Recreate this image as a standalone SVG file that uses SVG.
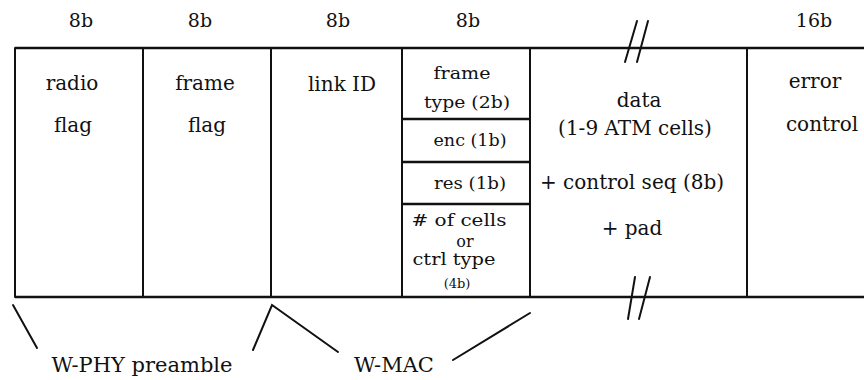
<svg xmlns="http://www.w3.org/2000/svg" width="864" height="380" viewBox="0 0 864 380">
<style>
text{font-family:"DejaVu Serif","Liberation Serif",serif;fill:#111;text-anchor:middle}
.b{font-size:19px}
.m{font-size:20px}
.s{font-size:16px}
.t{font-size:13px}
.ln{stroke:#111;stroke-width:2;fill:none;stroke-linecap:round}
.thk{stroke:#111;stroke-width:2.5;fill:none}
</style>
<rect width="864" height="380" fill="#fff"/>
<g id="bits">
<text class="b" x="81" y="27">8b</text>
<text class="b" x="200" y="27">8b</text>
<text class="b" x="338" y="27">8b</text>
<text class="b" x="468" y="27">8b</text>
<text class="b" x="814" y="27">16b</text>
</g>
<g id="frame-outline">
<line class="thk" x1="15" y1="48" x2="864" y2="48"/>
<line class="thk" x1="15" y1="297" x2="864" y2="297"/>
<line class="ln" x1="15" y1="48" x2="15" y2="297"/>
</g>
<g id="radio-flag">
<text class="m" x="72" y="90">radio</text>
<text class="m" x="73" y="132">flag</text>
</g>
<g id="frame-flag">
<line class="ln" x1="143" y1="48" x2="143" y2="297"/>
<text class="m" x="205" y="90">frame</text>
<text class="m" x="207" y="132">flag</text>
</g>
<g id="link-id">
<line class="ln" x1="271" y1="48" x2="271" y2="297"/>
<text class="m" x="342" y="91">link ID</text>
</g>
<g id="control-fields">
<line class="ln" x1="402" y1="48" x2="402" y2="297"/>
<line class="thk" x1="402" y1="119" x2="530" y2="119"/>
<line class="thk" x1="402" y1="162" x2="530" y2="162"/>
<line class="thk" x1="402" y1="204" x2="530" y2="204"/>
<text class="s" x="462" y="79" textLength="57" lengthAdjust="spacingAndGlyphs">frame</text>
<text class="s" x="467" y="108" textLength="86" lengthAdjust="spacingAndGlyphs">type (2b)</text>
<text class="s" x="470" y="146" textLength="73" lengthAdjust="spacingAndGlyphs">enc (1b)</text>
<text class="s" x="470" y="189" textLength="72" lengthAdjust="spacingAndGlyphs">res (1b)</text>
<text class="s" x="459" y="226" textLength="95" lengthAdjust="spacingAndGlyphs"># of cells</text>
<text class="s" x="465" y="247">or</text>
<text class="s" x="454" y="265" textLength="83" lengthAdjust="spacingAndGlyphs">ctrl type</text>
<text class="t" x="457" y="288">(4b)</text>
</g>
<g id="data">
<line class="ln" x1="530" y1="48" x2="530" y2="297"/>
<text class="m" x="639" y="107">data</text>
<text class="m" x="635" y="135">(1-9 ATM cells)</text>
<text class="m" x="632" y="189">+ control seq (8b)</text>
<text class="m" x="632" y="235">+ pad</text>
<line class="ln" x1="637" y1="21" x2="625" y2="62"/>
<line class="ln" x1="648" y1="21" x2="637" y2="62"/>
<line class="ln" x1="635" y1="277" x2="628" y2="319"/>
<line class="ln" x1="650" y1="277" x2="639" y2="319"/>
</g>
<g id="error-control">
<line class="ln" x1="747" y1="48" x2="747" y2="297"/>
<text class="m" x="815" y="88">error</text>
<text class="m" x="822" y="131">control</text>
</g>
<g id="w-phy-preamble">
<text x="142" y="372" style="font-size:21px">W-PHY preamble</text>
</g>
<g id="w-mac">
<text x="394" y="372" style="font-size:21px">W-MAC</text>
</g>
<g id="connectors">
<line class="ln" x1="13" y1="305" x2="37" y2="348"/>
<polyline class="ln" points="253,350 272,305 338,352"/>
<line class="ln" x1="453" y1="360" x2="530" y2="313"/>
</g>
</svg>
